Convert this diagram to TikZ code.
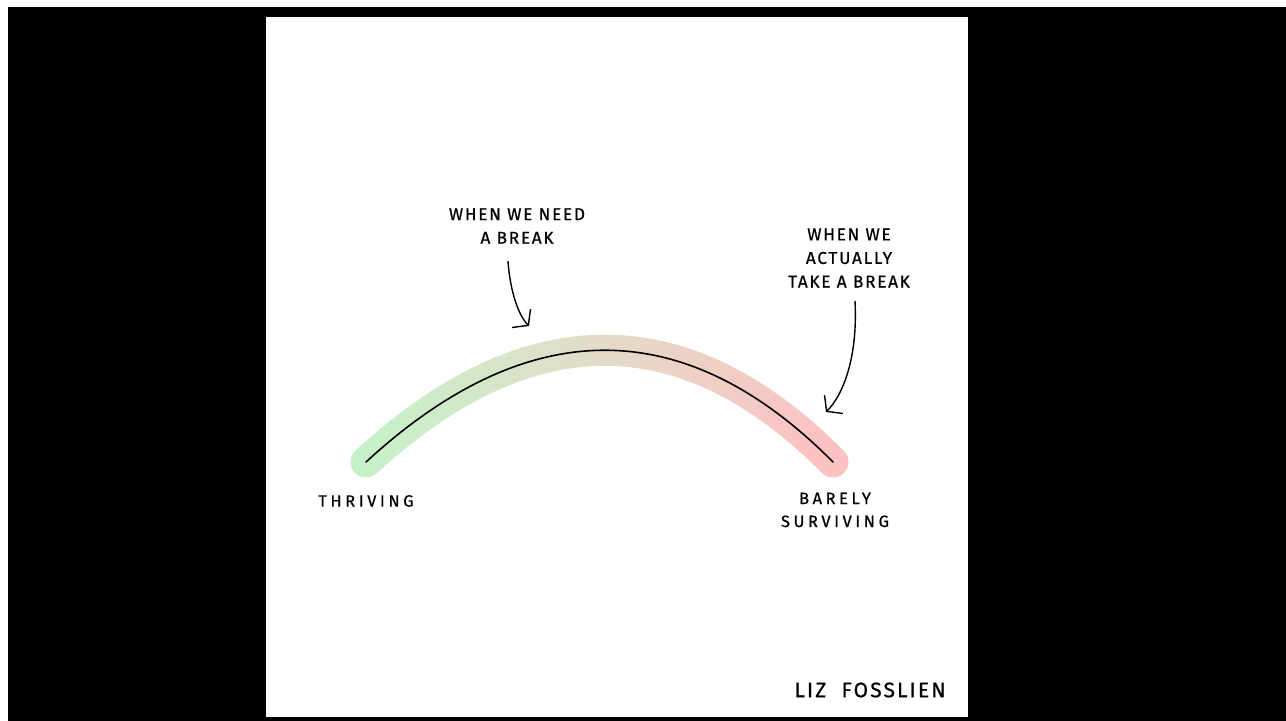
\documentclass[tikz,border=0pt]{standalone}
\usepackage{fontspec}
\setmainfont{Fira Sans}[LetterSpace=10, FakeBold=0.6]
\usetikzlibrary{arrows.meta}

\definecolor{thrivegreen}{RGB}{196,242,200}
\definecolor{midbeige}{RGB}{226,221,200}
\definecolor{survivepink}{RGB}{252,194,194}

\begin{document}
\begin{tikzpicture}[x=0.5pt, y=-0.5pt,
    note/.style={font=\fontsize{8.6}{11.8}\selectfont, align=center, inner sep=0pt},
    wide/.style={note, font=\fontsize{8.2}{11.5}\selectfont\addfontfeature{LetterSpace=22}},
    band/.style={line width=15.5pt, line cap=round},
    curve/.style={line width=0.8pt, line cap=round},
    arrow/.style={-{Straight Barb[length=5pt, width=13pt]}, line width=0.7pt}
]
\useasboundingbox (0,0) rectangle (1286,721);

% Frame
\fill[black] (8,7) rectangle (1286,721);
\fill[white] (266,17) rectangle (968,717);

% Arc ends and controls
\coordinate (thrive) at (366,462);
\coordinate (survive) at (833,462);
\coordinate (c1) at (528,313);
\coordinate (c2) at (685,313);

% Coloured band, green to pink
\foreach \i in {1,...,60} {
  \pgfmathsetmacro\ta{(\i-1)/60}
  \pgfmathsetmacro\tb{\i/60}
  \ifnum\i<31
    \pgfmathtruncatemacro\m{100*\i/30}
    \def\segcol{midbeige!\m!thrivegreen}
  \else
    \pgfmathtruncatemacro\m{100*(\i-30)/30}
    \def\segcol{survivepink!\m!midbeige}
  \fi
  \path (thrive) .. controls (c1) and (c2) .. (survive)
    coordinate[pos=\ta] (sa) coordinate[pos=\tb] (sb);
  \draw[band, draw=\segcol] (sa) -- (sb);
}
\draw[curve] (thrive) .. controls (c1) and (c2) .. (survive);

% Labels
\node[note] (need) at (517,226) {WHEN WE NEED\\A BREAK};
\node[note] (take) at (849,258) {WHEN WE\\ACTUALLY\\TAKE A BREAK};
\node[wide] (thriving) at (366,501) {THRIVING};
\node[wide] (barely) at (835,510) {BARELY\\SURVIVING};
\node[font=\fontsize{10.5}{12}\selectfont, inner sep=0pt] (author) at (870,690) {LIZ\ \ FOSSLIEN};

% Arrows
\coordinate (tip1) at (529,326);
\coordinate (tip2) at (826,412);
\draw[arrow] ([shift={(-9,17)}]need.south) .. controls (510,290) and (518,315) .. (tip1);
\draw[arrow] ([shift={(6,13)}]take.south) .. controls (858,360) and (842,396) .. (tip2);
\end{tikzpicture}
\end{document}
